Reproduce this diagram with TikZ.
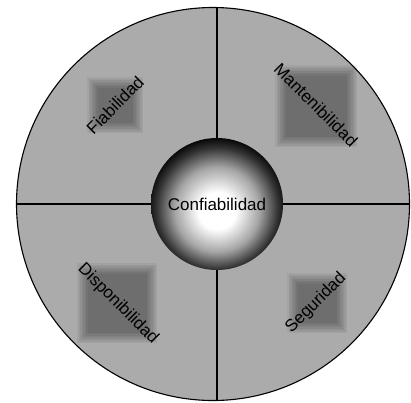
\documentclass[tikz,border=0pt]{standalone}
\usepackage{fontspec}
\setmainfont{Liberation Sans}
\usetikzlibrary{
    calc    % 坐标计算
}
% 中心球的径向渐变
\pgfdeclareradialshading{esfera}{\pgfpoint{0bp}{-3bp}}{%
  color(0bp)=(white); color(7bp)=(white); color(16bp)=(black!35);
  color(23bp)=(black!80); color(27bp)=(black); color(50bp)=(black)}

\begin{document}
\begin{tikzpicture}[
    x=1pt, y=-1pt,
    disco/.style={circle, draw, line width=1.1pt, fill=black!33,
        minimum size=393pt, inner sep=0pt},
    nucleo/.style={circle, shading=esfera, minimum size=132pt,
        inner sep=0pt, font=\fontsize{17}{20}\selectfont},
    rotulo/.style={font=\fontsize{17}{20}\selectfont, inner sep=0pt},
    corte/.style={line width=1.1pt}
]
    \useasboundingbox (0,0) rectangle (411,402);

    % 外圆
    \node[disco] (disco) at (213,204) {};

    % 四个模糊方块
    \foreach \cx/\cy/\s in {115/105/56, 316/106/82, 117/303/80, 317/303/60}
        \foreach \k in {0,...,7}
            \fill[black, opacity=0.05]
                (\cx-\s/2+\k*1.5, \cy-\s/2+\k*1.5)
                rectangle (\cx+\s/2-\k*1.5, \cy+\s/2-\k*1.5);

    % 中心球
    \node[nucleo] (conf) at (217,204) {};

    % 分隔线
    \draw[corte] (conf.north) -- (conf.north |- disco.north);
    \draw[corte] (conf.south) -- (conf.south |- disco.south);
    \draw[corte] (conf.west) -- (disco.west |- conf.west);
    \draw[corte] (conf.east) -- (disco.east |- conf.east);

    % 文字
    \node[rotulo] (confText) at (conf) {Confiabilidad};
    \node[rotulo, rotate=45] (fia) at (115,105) {Fiabilidad};
    \node[rotulo, rotate=-45] (man) at (316,105) {Mantenibilidad};
    \node[rotulo, rotate=-45] (disp) at (118,304) {Disponibilidad};
    \node[rotulo, rotate=45] (seg) at (316,303) {Seguridad};
\end{tikzpicture}
\end{document}
